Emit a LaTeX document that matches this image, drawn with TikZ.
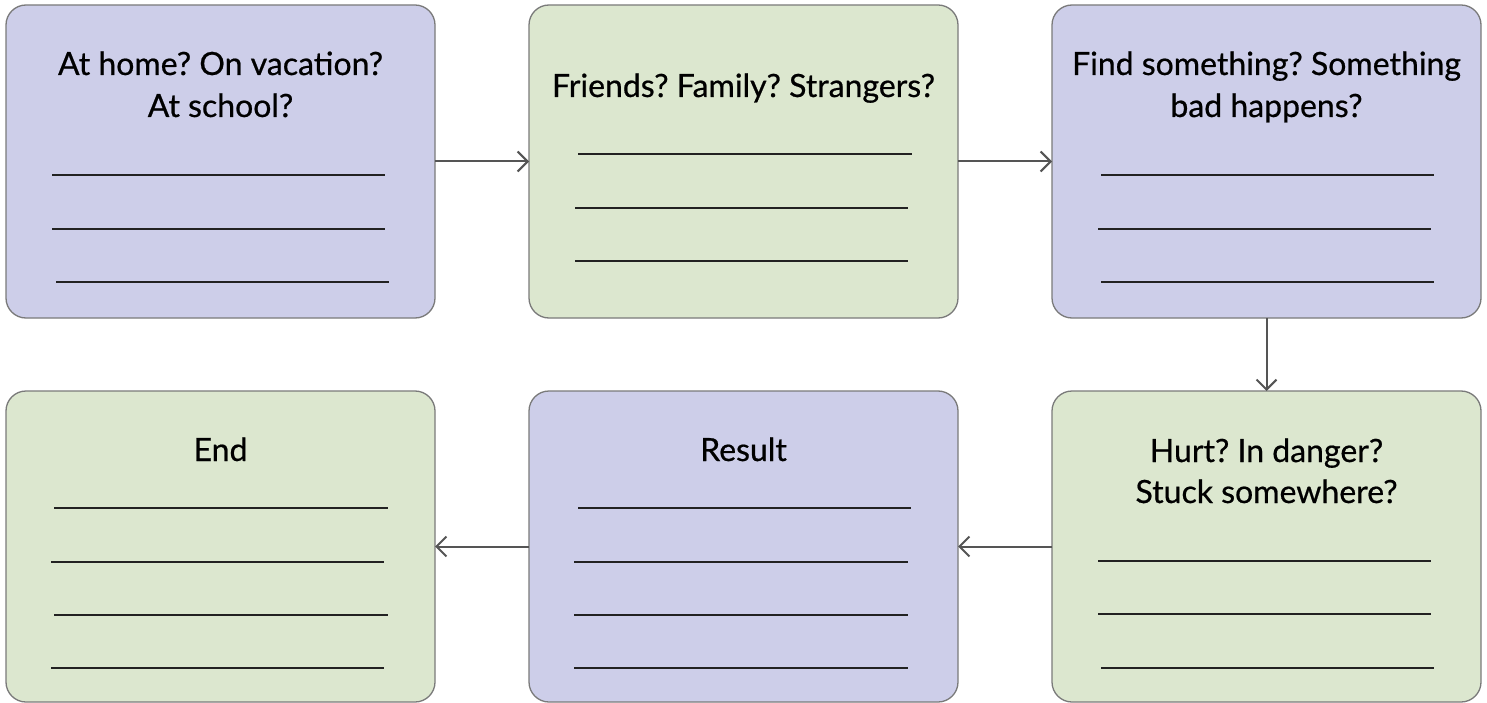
\documentclass[tikz,border=0pt]{standalone}
\usepackage{fontspec}
\setmainfont{Lato}
\newfontfamily\cardfont{Lato}[FakeBold=0.6]
\frenchspacing
\usetikzlibrary{arrows.meta}
\definecolor{boxpurple}{HTML}{CDCEE9}
\definecolor{boxgreen}{HTML}{DCE7CF}
\definecolor{boxborder}{HTML}{7A7A7A}
\definecolor{arrowgray}{HTML}{555555}
\definecolor{inkline}{HTML}{222222}
\tikzset{
  card/.style={draw=boxborder, line width=1.3pt, rounded corners=20pt,
    minimum width=429pt, inner sep=0pt, outer sep=0pt},
  purplecard/.style={card, fill=boxpurple},
  greencard/.style={card, fill=boxgreen},
  label/.style={anchor=base, inner sep=0pt, font=\cardfont\fontsize{32}{38}\selectfont},
  writeline/.style={draw=inkline, line width=1.5pt},
  flow/.style={draw=arrowgray, line width=2pt, -{Straight Barb[length=10pt,width=20pt]}}
}
\begin{document}
\begin{tikzpicture}[x=1pt,y=-1pt]
\useasboundingbox (0,0) rectangle (1487,703);
% cards
\node[purplecard, minimum height=313pt] (b1) at (220.5,161.5) {};
\node[greencard,  minimum height=313pt] (b2) at (743.5,161.5) {};
\node[purplecard, minimum height=313pt] (b3) at (1266.5,161.5) {};
\node[greencard,  minimum height=311pt] (b4) at (1266.5,546.5) {};
\node[purplecard, minimum height=311pt] (b5) at (743.5,546.5) {};
\node[greencard,  minimum height=311pt] (b6) at (220.5,546.5) {};
% texts
\node[label] (t1a) at (220.5,75) {At home? On vacation?};
\node[label] (t1b) at (220.5,117) {At school?};
\node[label] (t2) at (743.5,97) {Friends? Family? Strangers?};
\node[label] (t3a) at (1266.5,75) {Find something? Something};
\node[label] (t3b) at (1266.5,117) {bad happens?};
\node[label] (t4a) at (1266.5,462) {Hurt? In danger?};
\node[label] (t4b) at (1266.5,503) {Stuck somewhere?};
\node[label] (t5) at (743.5,461) {Result};
\node[label] (t6) at (220.5,461) {End};
% writing lines
\draw[writeline] (52,175) -- (385,175);
\draw[writeline] (52,229) -- (385,229);
\draw[writeline] (56,282) -- (389,282);
\draw[writeline] (578,154) -- (912,154);
\draw[writeline] (575,208) -- (908,208);
\draw[writeline] (575,261) -- (908,261);
\draw[writeline] (1101,175) -- (1434,175);
\draw[writeline] (1098,229) -- (1431,229);
\draw[writeline] (1101,282) -- (1434,282);
\draw[writeline] (1098,561) -- (1431,561);
\draw[writeline] (1098,614) -- (1431,614);
\draw[writeline] (1101,668) -- (1434,668);
\draw[writeline] (578,508) -- (911,508);
\draw[writeline] (574,562) -- (908,562);
\draw[writeline] (574,615) -- (908,615);
\draw[writeline] (574,668) -- (908,668);
\draw[writeline] (54,508) -- (388,508);
\draw[writeline] (51,562) -- (384,562);
\draw[writeline] (54,615) -- (388,615);
\draw[writeline] (51,668) -- (384,668);
% connectors
\draw[flow] (b1.east) -- (b2.west);
\draw[flow] (b2.east) -- (b3.west);
\draw[flow] (b3.south) -- (b4.north);
\draw[flow] (b4.west) -- (b5.east);
\draw[flow] (b5.west) -- (b6.east);
\end{tikzpicture}
\end{document}
